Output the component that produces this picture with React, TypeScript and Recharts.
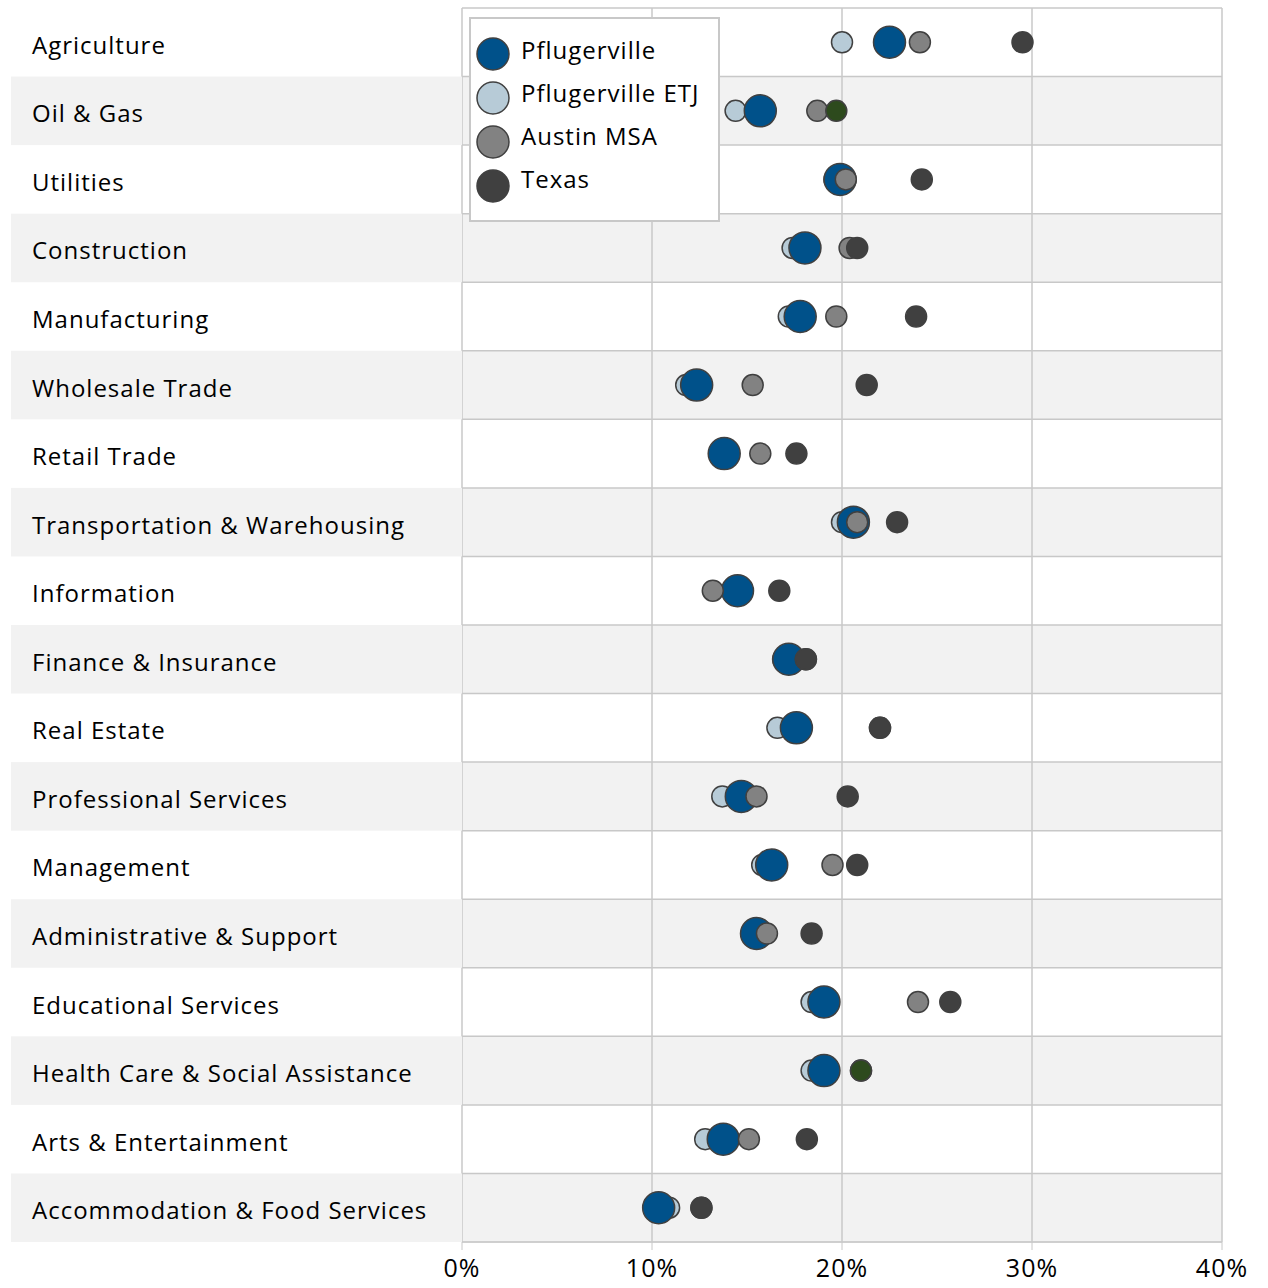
import { ScatterChart, Scatter, XAxis, YAxis, CartesianGrid, Cell } from "recharts";

const CATEGORIES = [
  "Agriculture",
  "Oil & Gas",
  "Utilities",
  "Construction",
  "Manufacturing",
  "Wholesale Trade",
  "Retail Trade",
  "Transportation & Warehousing",
  "Information",
  "Finance & Insurance",
  "Real Estate",
  "Professional Services",
  "Management",
  "Administrative & Support",
  "Educational Services",
  "Health Care & Social Assistance",
  "Arts & Entertainment",
  "Accommodation & Food Services",
];

const PFLUGERVILLE = [22.5, 15.7, 19.9, 18.05, 17.8, 12.35, 13.8, 20.6, 14.5, 17.2, 17.6, 14.7, 16.3, 15.5, 19.05, 19.05, 13.75, 10.35];
const PFLUGERVILLE_ETJ = [20.0, 14.4, 19.6, 17.4, 17.2, 11.8, 13.7, 20.0, 14.4, 16.9, 16.6, 13.7, 15.8, 15.9, 18.4, 18.4, 12.8, 10.9];
const AUSTIN_MSA = [24.1, 18.7, 20.2, 20.4, 19.7, 15.3, 15.7, 20.8, 13.2, 18.1, 22.0, 15.5, 19.5, 16.05, 24.0, 21.0, 15.1, 12.6];
const TEXAS = [29.5, 19.7, 24.2, 20.8, 23.9, 21.3, 17.6, 22.9, 16.7, 18.1, 22.0, 20.3, 20.8, 18.4, 25.7, 21.0, 18.15, 12.6];
const X_TICKS = [0, 10, 20, 30, 40];
const LEGEND_NAMES = ["Pflugerville", "Pflugerville ETJ", "Austin MSA", "Texas"];

// rows whose Texas dot is shown in green
const GREEN_ROWS = ["Oil & Gas", "Health Care & Social Assistance"];

const COLORS: Record<string, string> = {
  Pflugerville: "#00518a",
  "Pflugerville ETJ": "#b7cbd7",
  "Austin MSA": "#828282",
  Texas: "#404040",
};

const FONT = "'Open Sans', sans-serif";
const GRID = "#c8c8c8";
const ROW_TOP = 8;
const ROW_BOTTOM = 1242;
const ROW_H = (ROW_BOTTOM - ROW_TOP) / CATEGORIES.length;

const toPoints = (vals: number[]) =>
  vals.map((v, i) => ({ x: v, y: i + 0.5, name: CATEGORIES[i] }));

const dot = (r: number) => (p: any) =>
  <circle cx={p.cx} cy={p.cy} r={r} fill={p.fill} stroke="#404040" strokeWidth={1.5} />;

function RowTick(props: any) {
  const { y, payload } = props;
  const i = payload.value;
  if (i >= CATEGORIES.length) return null;
  return (
    <g>
      {i % 2 === 1 && <rect x={11} y={y} width={451} height={ROW_H} fill="#f2f2f2" />}
      <text x={32} y={y + ROW_H / 2 + 2} dominantBaseline="central" fontSize={24} letterSpacing={1} fontFamily={FONT} fill="#000">
        {CATEGORIES[i]}
      </text>
    </g>
  );
}

function LegendBox() {
  return (
    <div style={{ position: "absolute", left: 469, top: 17, width: 251, height: 205, boxSizing: "border-box", border: `2px solid ${GRID}`, background: "#fff" }}>
      <svg width={247} height={201}>
        {LEGEND_NAMES.map((name, i) => (
          <g key={name}>
            <circle cx={22} cy={35 + i * 44} r={16} fill={COLORS[name]} stroke="#404040" strokeWidth={1.5} />
            <text x={50} y={30 + i * 43} dominantBaseline="central" fontSize={24} letterSpacing={1} fontFamily={FONT} fill="#000">
              {name}
            </text>
          </g>
        ))}
      </svg>
    </div>
  );
}

export default function App() {
  const yTicks = CATEGORIES.map((_c, i) => i).concat([CATEGORIES.length]);
  return (
    <div style={{ position: "absolute", left: 0, top: 0, width: 1268, height: 1288, background: "#fff" }}>
      <ScatterChart width={1268} height={1288} margin={{ top: ROW_TOP, right: 46, left: 11, bottom: 0 }}>
        <CartesianGrid stroke={GRID} strokeWidth={1.5} horizontalFill={["#ffffff", "#f2f2f2"]} />
        <XAxis
          type="number"
          dataKey="x"
          domain={[0, 40]}
          ticks={X_TICKS}
          tickFormatter={(v) => `${v}%`}
          height={46}
          tickSize={8}
          tickMargin={9}
          stroke={GRID}
          tick={{ fontSize: 25, fontFamily: FONT, fill: "#000", letterSpacing: 1 }}
        />
        <YAxis
          type="number"
          dataKey="y"
          domain={[0, CATEGORIES.length]}
          ticks={yTicks}
          interval={0}
          reversed
          width={451}
          axisLine={false}
          tickLine={false}
          tick={<RowTick />}
        />
        <Scatter name="Pflugerville ETJ" data={toPoints(PFLUGERVILLE_ETJ)} fill={COLORS["Pflugerville ETJ"]} shape={dot(10.5)} isAnimationActive={false} />
        <Scatter name="Pflugerville" data={toPoints(PFLUGERVILLE)} fill={COLORS.Pflugerville} shape={dot(16)} isAnimationActive={false} />
        <Scatter name="Austin MSA" data={toPoints(AUSTIN_MSA)} fill={COLORS["Austin MSA"]} shape={dot(10.5)} isAnimationActive={false} />
        <Scatter name="Texas" data={toPoints(TEXAS)} fill={COLORS.Texas} shape={dot(10.5)} isAnimationActive={false}>
          {CATEGORIES.map((c) => (
            <Cell key={c} fill={GREEN_ROWS.includes(c) ? "#2d4a1d" : COLORS.Texas} />
          ))}
        </Scatter>
      </ScatterChart>
      <LegendBox />
    </div>
  );
}
